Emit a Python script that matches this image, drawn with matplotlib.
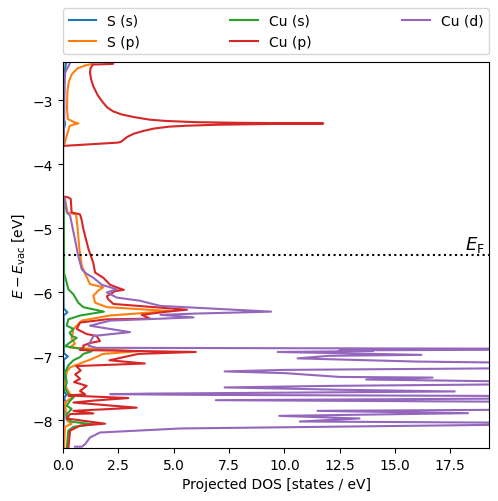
import numpy as np
import matplotlib
matplotlib.use('Agg')
import matplotlib.pyplot as plt

# (energia [eV], DOS [states/eV])
s_s = [(-2.35, 0.2), (-2.45, 0.12), (-2.6, 0.06), (-3.3, 0.05), (-3.36, 0.1),
       (-3.45, 0.04), (-3.72, 0.0), (-4.5, 0.0), (-4.52, 0.01), (-6.25, 0.03),
       (-6.31, 0.2), (-6.36, 0.03), (-6.95, 0.04), (-7.0, 0.22), (-7.05, 0.04),
       (-7.55, 0.05), (-7.6, 0.15), (-7.65, 0.05), (-7.72, 0.12), (-7.78, 0.04),
       (-8.44, 0.02)]

s_p = [(-2.35, 1.6), (-2.43, 1.3), (-2.46, 0.95), (-2.5, 0.65), (-2.59, 0.4),
       (-2.7, 0.27), (-2.85, 0.2), (-3.13, 0.18), (-3.29, 0.22), (-3.34, 0.5),
       (-3.36, 0.7), (-3.38, 0.45), (-3.40, 0.3), (-3.55, 0.17), (-3.70, 0.05),
       (-3.72, 0.0), (-4.50, 0.0),
       (-4.52, 0.05), (-4.54, 0.09), (-4.75, 0.2), (-4.78, 0.59), (-4.96, 0.65),
       (-5.32, 0.74), (-5.58, 0.85), (-5.71, 1.0), (-5.87, 1.22), (-5.92, 1.82),
       (-5.97, 1.6), (-6.05, 1.37), (-6.16, 1.45), (-6.23, 1.98), (-6.29, 4.84),
       (-6.36, 2.13), (-6.44, 0.85), (-6.57, 0.47), (-6.72, 0.39), (-6.80, 0.54),
       (-6.86, 0.3), (-6.92, 3.38), (-6.96, 1.82), (-7.04, 1.3), (-7.11, 0.77),
       (-7.17, 0.32), (-7.24, 0.17), (-7.45, 0.09), (-7.59, 0.32), (-7.62, 0.54),
       (-7.66, 0.32), (-7.72, 0.09), (-8.0, 0.17), (-8.05, 0.39), (-8.1, 0.09),
       (-8.44, 0.05)]

cu_s = [(-2.35, 0.02), (-3.3, 0.02), (-3.35, 0.08), (-3.4, 0.02), (-3.72, 0.0),
        (-4.50, 0.0), (-4.52, 0.03), (-5.7, 0.05), (-5.85, 0.17), (-5.95, 0.24),
        (-6.03, 0.47), (-6.16, 0.69), (-6.23, 0.92), (-6.30, 1.85), (-6.36, 0.77),
        (-6.42, 0.24), (-6.52, 0.17), (-6.57, 0.47), (-6.63, 0.3), (-6.68, 0.39),
        (-6.71, 0.62), (-6.78, 0.32), (-6.84, 0.09), (-6.87, 0.62), (-6.92, 1.3),
        (-6.96, 0.92), (-7.01, 0.77), (-7.06, 0.47), (-7.14, 0.24), (-7.25, 0.09),
        (-7.40, 0.17), (-7.50, 0.09), (-7.59, 0.24), (-7.64, 0.47), (-7.69, 0.32),
        (-7.77, 0.17), (-7.82, 0.39), (-7.90, 0.17), (-7.97, 0.17), (-8.02, 0.39),
        (-8.06, 1.37), (-8.10, 0.47), (-8.16, 0.24), (-8.44, 0.17)]

cu_p = [(-2.35, 2.3), (-2.43, 2.26), (-2.44, 1.35), (-2.5, 1.24), (-2.56, 1.22),
        (-2.67, 1.27), (-2.78, 1.37), (-2.92, 1.57), (-3.03, 1.8), (-3.11, 2.0),
        (-3.17, 2.26), (-3.22, 2.65), (-3.26, 3.2), (-3.30, 3.9), (-3.32, 4.6),
        (-3.34, 6.0), (-3.35, 8.0), (-3.36, 11.76), (-3.37, 9.0), (-3.38, 7.0),
        (-3.395, 5.6), (-3.41, 4.8), (-3.44, 4.1), (-3.48, 3.6), (-3.52, 3.2),
        (-3.57, 2.9), (-3.62, 2.72), (-3.65, 2.6), (-3.66, 2.45), (-3.71, 0.05),
        (-3.73, 0.0), (-4.50, 0.0), (-4.515, 0.24),
        (-4.54, 0.35), (-4.75, 0.39), (-4.78, 0.77), (-4.88, 0.85), (-5.01, 0.92),
        (-5.32, 1.15), (-5.54, 1.37), (-5.69, 1.45), (-5.77, 1.82), (-5.88, 2.13),
        (-5.93, 2.5), (-5.96, 2.75), (-5.98, 2.35), (-6.06, 1.98), (-6.11, 2.05),
        (-6.18, 2.28), (-6.27, 5.6), (-6.30, 4.7), (-6.35, 3.56), (-6.41, 3.94),
        (-6.42, 1.98), (-6.47, 0.77), (-6.57, 0.62), (-6.65, 1.07), (-6.68, 1.52),
        (-6.76, 1.67), (-6.79, 1.22), (-6.83, 0.92), (-6.86, 0.92), (-6.90, 0.77),
        (-6.93, 6.0), (-6.96, 3.4), (-7.06, 2.1), (-7.11, 3.7), (-7.15, 0.6),
        (-7.22, 0.8), (-7.28, 0.55), (-7.35, 0.77), (-7.40, 0.5), (-7.46, 1.07),
        (-7.54, 0.77), (-7.59, 1.0), (-7.61, 0.24), (-7.65, 2.95), (-7.69, 1.37),
        (-7.72, 0.47), (-7.80, 3.33), (-7.85, 0.47), (-7.89, 1.37), (-7.90, 0.32),
        (-7.97, 0.17), (-8.05, 1.9), (-8.08, 0.77), (-8.16, 0.32), (-8.44, 0.24)]

cu_d = [(-2.35, 0.4), (-2.43, 0.3), (-2.56, 0.1), (-2.8, 0.06), (-3.36, 0.05),
        (-3.70, 0.02), (-3.72, 0.0), (-4.50, 0.0), (-4.515, 0.05), (-4.75, 0.17),
        (-4.80, 0.32), (-5.17, 0.54), (-5.43, 0.69), (-5.64, 0.85), (-5.71, 1.07),
        (-5.77, 1.37), (-5.88, 1.75), (-5.95, 2.43), (-6.0, 1.98), (-6.08, 2.43),
        (-6.13, 3.48), (-6.21, 4.39), (-6.30, 9.4), (-6.33, 6.0), (-6.35, 4.4),
        (-6.39, 5.9), (-6.44, 2.13), (-6.52, 1.22), (-6.62, 3.03), (-6.68, 1.37),
        (-6.83, 1.15), (-6.865, 1.5), (-6.88, 22.0), (-6.895, 20.0), (-6.905, 12.5),
        (-6.915, 14.0), (-6.93, 9.7), (-6.975, 16.2), (-6.99, 12.0), (-7.03, 10.6),
        (-7.08, 16.0), (-7.105, 22.0), (-7.14, 25.0), (-7.18, 22.0), (-7.21, 10.0),
        (-7.234, 7.3), (-7.26, 10.0), (-7.32, 12.5), (-7.33, 16.7), (-7.36, 13.7),
        (-7.40, 22.0), (-7.43, 22.0), (-7.46, 12.0), (-7.484, 7.3), (-7.52, 12.5),
        (-7.547, 17.7), (-7.58, 4.0), (-7.589, 2.13), (-7.60, 6.0), (-7.62, 22.0),
        (-7.64, 24.0), (-7.66, 19.0), (-7.683, 6.9), (-7.706, 19.5), (-7.77, 26.0),
        (-7.834, 19.5), (-7.85, 11.5), (-7.886, 18.3), (-7.928, 9.77), (-7.969, 13.4),
        (-8.016, 10.7), (-8.034, 19.5), (-8.05, 24.0), (-8.069, 19.3), (-8.125, 5.3),
        (-8.188, 1.67), (-8.266, 1.22), (-8.37, 1.0), (-8.41, 0.85), (-8.41, 0.54)]

series = [('S (s)', s_s), ('S (p)', s_p), ('Cu (s)', cu_s), ('Cu (p)', cu_p), ('Cu (d)', cu_d)]
e_fermi = -5.42

fig = plt.figure(figsize=(4.98, 5.02), dpi=100)
ax = fig.add_axes([0.1265, 0.1056, 0.8555, 0.7689])

for nombre, datos in series:
    d = np.array(datos)
    ax.plot(d[:, 1], d[:, 0], label=nombre)

ax.axhline(e_fermi, color='k', linestyle=':', linewidth=1.5)
ax.text(19.05, e_fermi + 0.02, r'$E_\mathrm{F}$', ha='right', va='bottom', fontsize=13)

ax.set_xlim(0, 19.25)
ax.set_ylim(-8.43, -2.40)
ax.set_xlabel('Projected DOS [states / eV]')
ax.set_ylabel(r'$E - E_\mathrm{vac}$ [eV]')
ax.legend(bbox_to_anchor=(0., 1.02, 1., .102), loc='lower left', ncol=3,
          mode='expand', borderaxespad=0.)

fig.savefig('out.png', dpi=100)
